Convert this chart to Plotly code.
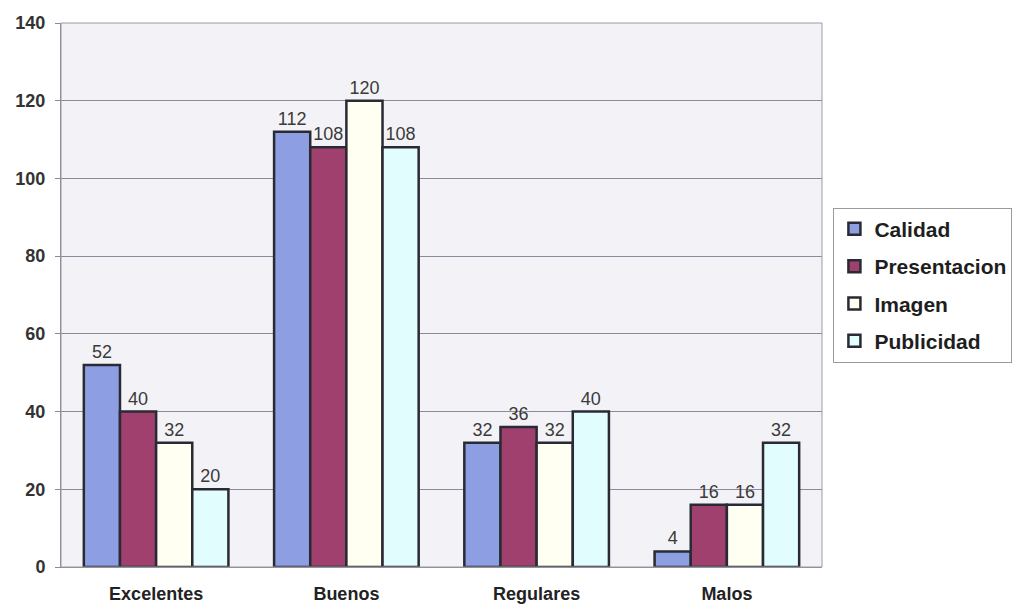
import plotly.graph_objects as go

categorias = ["Excelentes", "Buenos", "Regulares", "Malos"]
calidad = [52, 112, 32, 4]
presentacion = [40, 108, 36, 16]
imagen = [32, 120, 32, 16]
publicidad = [20, 108, 40, 32]

series = [
    ("Calidad", calidad, "#8e9ee2"),
    ("Presentacion", presentacion, "#a0406f"),
    ("Imagen", imagen, "#fffff2"),
    ("Publicidad", publicidad, "#e2fdfd"),
]

fig = go.Figure()
for nombre, valores, color in series:
    fig.add_trace(go.Bar(
        x=categorias, y=valores, name=nombre, legendgroup=nombre,
        marker=dict(color=color, line=dict(color="#2a2a34", width=2.5)),
        text=[str(v) for v in valores], textposition="outside",
        textfont=dict(family="Liberation Sans, Arial", size=18, color="#3a3a3a"),
        cliponaxis=False,
    ))

fig.update_layout(
    width=1020, height=607,
    margin=dict(l=61, r=198, t=23, b=40, autoexpand=False),
    paper_bgcolor="white", plot_bgcolor="#f3f3f7",
    barmode="group", bargap=0.24, bargroupgap=0,
    font=dict(family="Liberation Sans, Arial", color="#222"),
    legend=dict(
        x=1.015, y=0.518, xanchor="left", yanchor="middle",
        bordercolor="#9a9aa0", borderwidth=1, bgcolor="white",
        font=dict(family="Liberation Sans, Arial", size=21, color="#1e1e1e", weight="bold"),
        tracegroupgap=7, itemwidth=30,
    ),
    xaxis=dict(
        showline=True, linecolor="#8a8a95", linewidth=1, automargin=False,
        tickfont=dict(family="Liberation Sans, Arial", size=18, color="#222", weight="bold"),
        ticks="", ticklabelstandoff=10,
    ),
    yaxis=dict(
        range=[0, 140], dtick=20, showgrid=True, gridcolor="#8a8a9a", gridwidth=1,
        showline=True, linecolor="#8a8a95", linewidth=1, ticks="outside", ticklen=5,
        tickcolor="#8a8a95", zeroline=False, ticklabelstandoff=6, automargin=False,
        tickfont=dict(family="Liberation Sans, Arial", size=18, color="#333", weight="bold"),
    ),
    shapes=[dict(type="rect", xref="paper", yref="paper", x0=0, y0=0, x1=1, y1=1,
                 line=dict(color="#9a9aa5", width=1))],
)

fig.write_html("out.html")
